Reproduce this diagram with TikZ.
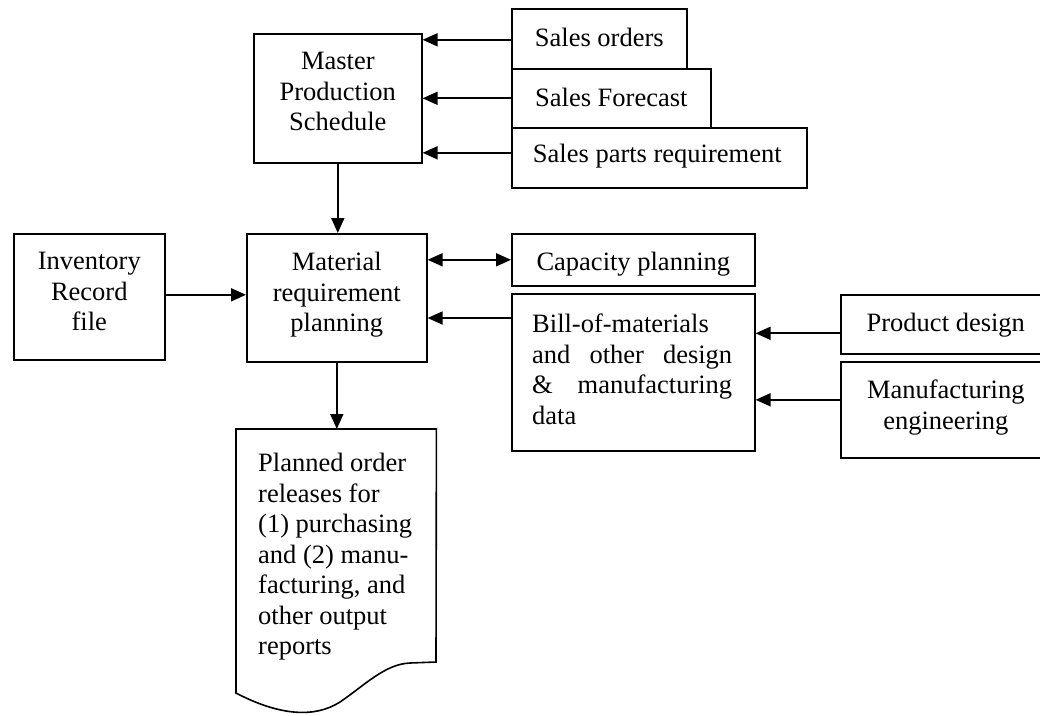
\documentclass[tikz,border=0pt]{standalone}
\usepackage{fontspec}
\setmainfont{Liberation Serif}
\usetikzlibrary{arrows.meta}
\begin{document}
\begin{tikzpicture}[x=1pt, y=-1pt,
  box/.style={draw, line width=1.6pt, inner sep=0pt, anchor=north west},
  txt/.style={inner sep=0pt, anchor=north, align=center,
              font=\fontsize{26.5pt}{30.5pt}\selectfont},
  flow/.style={line width=1.8pt, -{Triangle[length=15pt,width=13pt]}},
  both/.style={line width=1.8pt, {Triangle[length=15pt,width=13pt]}-{Triangle[length=15pt,width=13pt]}},
]
\useasboundingbox (0,0) rectangle (1040,715);

% boxes
\node[box, minimum width=168pt, minimum height=129pt] (mps) at (253,33) {};
\node[box, minimum width=175pt, minimum height=60pt]  (so)  at (511,8) {};
\node[box, minimum width=199pt, minimum height=59pt]  (sf)  at (511,68) {};
\node[box, minimum width=295pt, minimum height=60pt]  (spr) at (511,127) {};
\node[box, minimum width=151pt, minimum height=126pt] (inv) at (13,233) {};
\node[box, minimum width=180pt, minimum height=128pt] (mrp) at (246,233) {};
\node[box, minimum width=243pt, minimum height=52pt]  (cap) at (511,233) {};
\node[box, minimum width=243pt, minimum height=157pt] (bom) at (511,293) {};
\node[box, minimum width=202pt, minimum height=59pt]  (pd)  at (840,294) {};
\node[box, minimum width=202pt, minimum height=96pt]  (me)  at (840,361) {};
\node[inner sep=0pt, anchor=north west, minimum width=200pt, minimum height=264pt] (doc) at (236,429) {};

% document outline with wavy bottom
\draw[line width=1.6pt] (doc.north west) -- (doc.north east) -- (436,662) -- (410,663)
  .. controls (385,664) and (365,685) .. (340,702)
  .. controls (315,718) and (280,716) .. (236,693) -- cycle;

% labels
\node[txt] (mpst) at ([yshift=-19pt]mps.north) {Master\\Production\\Schedule};
\node[txt] (sot)  at ([yshift=-20pt]so.north) {Sales orders};
\node[txt] (sft)  at ([yshift=-20pt]sf.north) {Sales Forecast};
\node[txt] (sprt) at ([yshift=-17pt,xshift=-2pt]spr.north) {Sales parts requirement};
\node[txt] (invt) at ([yshift=-19pt]inv.north) {Inventory\\Record\\file};
\node[txt] (mrpt) at ([yshift=-19pt]mrp.north) {Material\\requirement\\planning};
\node[txt] (capt) at ([yshift=-19pt]cap.north) {Capacity planning};
\node[txt, anchor=north west, align=left] (bomt) at (532,314)
  {Bill-of-materials\\\makebox[200pt][s]{and other design}\\\makebox[200pt][s]{\& manufacturing}\\data};
\node[txt] (pdt)  at ([yshift=-19pt,xshift=4pt]pd.north) {Product design};
\node[txt] (met)  at ([yshift=-19pt,xshift=4pt]me.north) {Manufacturing\\engineering};
\node[txt, anchor=north west, align=left] (doct) at (258,453)
  {Planned order\\releases for\\(1) purchasing\\and (2) manu-\\facturing, and\\other output\\reports};

% connectors
\draw[flow] ([yshift=-1pt]so.west) -- ([yshift=-1pt]so.west -| mps.east);
\draw[flow] (sf.west) -- (sf.west -| mps.east);
\draw[flow] ([yshift=5pt]spr.west) -- ([yshift=5pt]spr.west -| mps.east);
\draw[flow] (mps.south) -- (mps.south |- mrp.north);
\draw[flow] ([yshift=2pt]inv.east) -- ([yshift=2pt]inv.east -| mrp.west);
\draw[both] (cap.west) -- (cap.west -| mrp.east);
\draw[flow] ([yshift=-25pt]bom.north west) -- ([yshift=-25pt]bom.north west -| mrp.east);
\draw[flow] ([yshift=-9pt]pd.west) -- ([yshift=-9pt]pd.west -| bom.east);
\draw[flow] ([yshift=10pt]me.west) -- ([yshift=10pt]me.west -| bom.east);
\draw[flow] (mrp.south) -- (mrp.south |- doc.north);
\end{tikzpicture}
\end{document}
